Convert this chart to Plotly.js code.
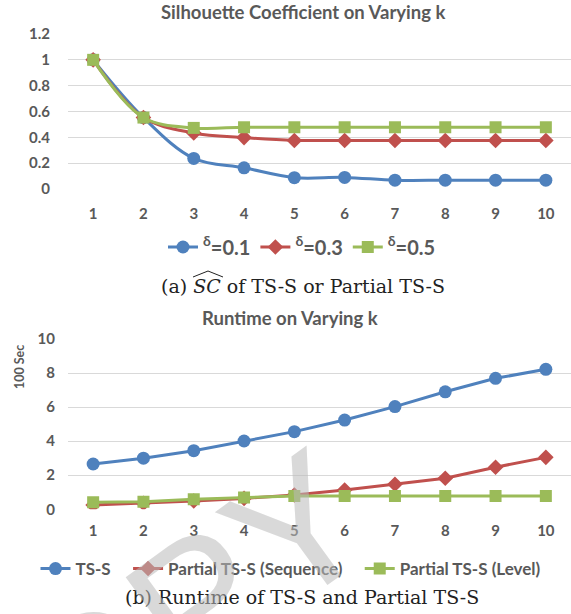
<!DOCTYPE html>
<html><head><meta charset="utf-8">
<script src="https://cdn.plot.ly/plotly-3.0.1.min.js"></script>
<style>html,body{margin:0;padding:0;background:#fff}</style>
</head><body><div id="c" style="width:571px;height:614px"></div>
<script>
const kValues = [1,2,3,4,5,6,7,8,9,10];
const sc_d01 = [1, 0.553, 0.237, 0.164, 0.088, 0.09, 0.068, 0.068, 0.068, 0.068];
const sc_d03 = [1, 0.553, 0.434, 0.398, 0.376, 0.376, 0.376, 0.376, 0.376, 0.376];
const sc_d05 = [1, 0.553, 0.473, 0.478, 0.478, 0.478, 0.478, 0.478, 0.478, 0.478];
const rt_tss = [2.66, 3.0, 3.44, 4.01, 4.56, 5.24, 6.03, 6.9, 7.69, 8.22];
const rt_seq = [0.25, 0.35, 0.49, 0.64, 0.84, 1.13, 1.47, 1.82, 2.47, 3.05];
const rt_lvl = [0.41, 0.45, 0.59, 0.7, 0.78, 0.78, 0.78, 0.78, 0.78, 0.78];
const topNames = ['<sup>δ</sup>=0.1', '<sup>δ</sup>=0.3', '<sup>δ</sup>=0.5'];
const botNames = ['TS-S', 'Partial TS-S (Sequence)', 'Partial TS-S (Level)'];

const BLUE='#4F81BD', RED='#C0504D', GREEN='#9BBB59', TXT='#595959', GRID='#D9D9D9';
const W=571, H=614;
const px=(x)=>x/W, py=(y)=>1-y/H;
const NB='\u00a0';

function tr(y, name, color, sym, size, xa, ya, shape, legend){
  return {x:kValues, y:y, name:name, type:'scatter', mode:'lines+markers',
    xaxis:xa, yaxis:ya, legend:legend,
    line:{color:color, width:3, shape:shape},
    marker:{color:color, symbol:sym, size:size}};
}
const data = [
  tr(sc_d01, topNames[0], BLUE, 'circle', 13, 'x', 'y', 'spline', 'legend'),
  tr(sc_d03, topNames[1], RED, 'diamond', 12, 'x', 'y', 'spline', 'legend'),
  tr(sc_d05, topNames[2], GREEN, 'square', 12, 'x', 'y', 'spline', 'legend'),
  tr(rt_tss, botNames[0] + NB+NB+NB, BLUE, 'circle', 13, 'x2', 'y2', 'linear', 'legend2'),
  tr(rt_seq, botNames[1] + NB+NB+NB, RED, 'diamond', 12, 'x2', 'y2', 'linear', 'legend2'),
  tr(rt_lvl, botNames[2], GREEN, 'square', 12, 'x2', 'y2', 'linear', 'legend2')
];
const tickFont={family:'Lato, sans-serif', size:15, color:TXT, weight:'bold'};
const xCommon={range:[0.5,10.5], tickvals:kValues, showgrid:false, zeroline:false, showline:false,
  ticks:'outside', tickcolor:'rgba(0,0,0,0)', tickfont:tickFont, fixedrange:true};
const yCommon={showgrid:true, gridcolor:GRID, gridwidth:1, zeroline:false, showline:false,
  ticks:'outside', tickcolor:'rgba(0,0,0,0)', tickfont:tickFont, fixedrange:true};

const layout={
  width:W, height:H, margin:{l:0,r:0,t:0,b:0}, paper_bgcolor:'#fff', plot_bgcolor:'#fff',
  font:{family:'Lato, sans-serif', color:TXT},
  xaxis:Object.assign({}, xCommon, {domain:[px(68),1], anchor:'y', ticklen:11}),
  yaxis:Object.assign({}, yCommon, {domain:[py(189),py(34)], anchor:'x', range:[0,1.2], dtick:0.2, ticklen:14}),
  xaxis2:Object.assign({}, xCommon, {domain:[px(68),1], anchor:'y2', ticklen:8}),
  yaxis2:Object.assign({}, yCommon, {domain:[py(509.3),py(339)], anchor:'x2', range:[0,10], dtick:2, ticklen:9}),
  legend:{orientation:'h', x:px(302), y:py(247), xanchor:'center', yanchor:'middle',
    font:{family:'Lato, sans-serif', size:20, color:TXT, weight:'bold'}, bgcolor:'rgba(0,0,0,0)'},
  legend2:{orientation:'h', x:px(291), y:py(569), xanchor:'center', yanchor:'middle',
    font:{family:'Lato, sans-serif', size:17, color:TXT, weight:'bold'}, bgcolor:'rgba(0,0,0,0)'},
  annotations:[
    {text:'Silhouette Coefficient on Varying k', x:px(303), y:py(12), xref:'paper', yref:'paper',
     showarrow:false, xanchor:'center', yanchor:'middle', font:{family:'Lato, sans-serif', size:18.5, color:TXT, weight:'bold'}},
    {text:'Runtime on Varying k', x:px(290), y:py(318), xref:'paper', yref:'paper',
     showarrow:false, xanchor:'center', yanchor:'middle', font:{family:'Lato, sans-serif', size:18.5, color:TXT, weight:'bold'}},
    {text:'100 Sec', x:px(19), y:py(367), xref:'paper', yref:'paper', textangle:-90,
     showarrow:false, xanchor:'center', yanchor:'middle', font:{family:'Lato, sans-serif', size:12.5, color:TXT, weight:'bold'}},
    {text:'(a) <i>SC</i> of TS-S or Partial TS-S', x:px(303), y:py(286), xref:'paper', yref:'paper',
     showarrow:false, xanchor:'center', yanchor:'middle', font:{family:'DejaVu Serif, serif', size:19, color:'#222'}},
    {text:'(b) Runtime of TS-S and Partial TS-S', x:px(302), y:py(597), xref:'paper', yref:'paper',
     showarrow:false, xanchor:'center', yanchor:'middle', font:{family:'DejaVu Serif, serif', size:19, color:'#222'}},
    {text:'COPY', x:px(138), y:py(645), xref:'paper', yref:'paper', textangle:-36,
     showarrow:false, xanchor:'center', yanchor:'middle', font:{family:'Liberation Sans, sans-serif', size:182, color:'rgba(185,185,185,0.55)'}}
  ],
  shapes:[
    {type:'path', xref:'paper', yref:'paper', path:'M '+px(193)+','+py(277)+' L '+px(208)+','+py(271)+' L '+px(223)+','+py(277),
     line:{color:'#222', width:1}}
  ]
};
Plotly.newPlot('c', data, layout, {staticPlot:true});
</script></body></html>
